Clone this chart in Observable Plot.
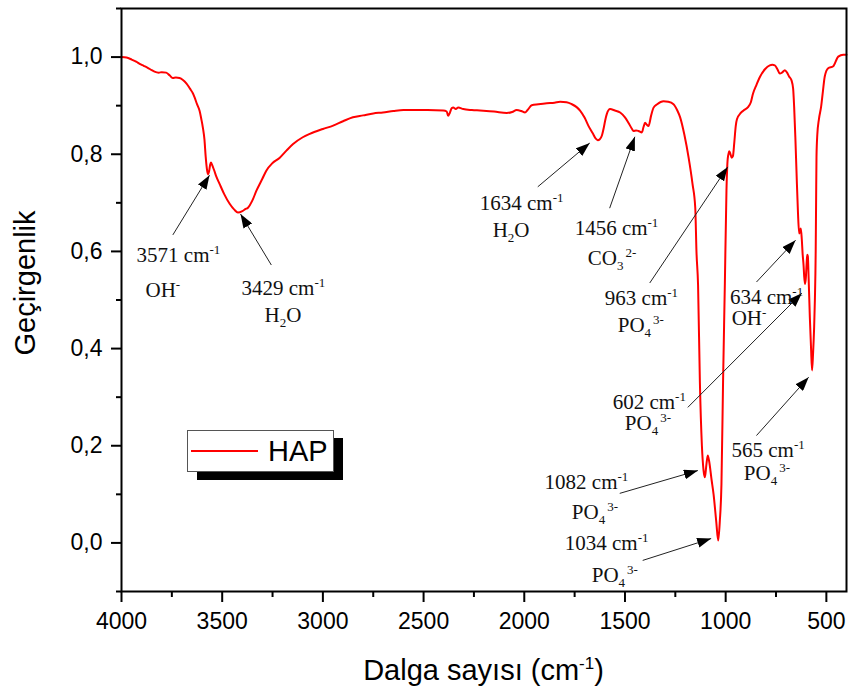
<!DOCTYPE html>
<html>
<head>
<meta charset="utf-8">
<script src="https://cdn.jsdelivr.net/npm/d3@7"></script>
<script src="https://cdn.jsdelivr.net/npm/@observablehq/plot@0.6"></script>
<style>
  html, body { margin: 0; padding: 0; background: #fff; }
  #chart { position: relative; width: 848px; height: 691px; }
</style>
</head>
<body>
<div id="chart"></div>
<script>
// ---- Spectrum ----
const wavenumber = [
  4000,3975,3950,3925,3910,3890,3870,3850,3836,3815,3800,3778,3760,3746,3730,3712,3695,3678,3660,3645,
  3637,3625,3612,3604,3596,3588,3582,3576,3571,3565,3560,3556,3550,3540,3530,3513,3490,3463,3440,3422,
  3400,3385,3372,3350,3330,3300,3281,3250,3214,3180,3148,3100,3065,3000,2949,2900,2851,2800,2750,2702,
  2650,2600,2552,2480,2402,2385,2378,2370,2360,2353,2340,2328,2303,2260,2220,2150,2087,2060,2038,2015,
  1996,1980,1963,1930,1888,1850,1822,1790,1764,1740,1723,1700,1682,1660,1645,1635,1625,1615,1605,1598,
  1590,1574,1550,1524,1500,1483,1465,1458,1445,1433,1416,1408,1400,1392,1383,1370,1358,1340,1309,1285,
  1259,1240,1226,1205,1184,1165,1151,1145,1137,1128,1118,1110,1103,1096,1089,1082,1070,1060,1047,1037,
  1029,1021,1013,1004,996,990,985,982,976,970,964,957,950,944,925,911,889,875,864,847,
  830,805,781,768,756,743,731,720,706,695,685,673,665,660,654,648,641,635,630,627,
  622,618,613,610,606,602,598,595,592,588,582,576,571,566,561,557,553,551,549,545,
  537,526,517,508,491,466,441,416,400
];
const transmittance = [
  1.000,0.999,0.995,0.990,0.986,0.982,0.978,0.973,0.970,0.968,0.969,0.968,0.962,0.957,0.958,0.957,0.953,0.946,0.935,0.925,
  0.917,0.903,0.889,0.873,0.855,0.830,0.795,0.770,0.759,0.765,0.778,0.783,0.778,0.767,0.755,0.739,0.718,0.698,0.686,0.680,
  0.683,0.687,0.690,0.705,0.725,0.750,0.766,0.782,0.793,0.808,0.821,0.835,0.842,0.852,0.859,0.868,0.876,0.880,0.884,0.886,
  0.889,0.891,0.891,0.891,0.890,0.888,0.879,0.885,0.895,0.896,0.893,0.896,0.893,0.891,0.890,0.888,0.885,0.887,0.891,0.889,
  0.886,0.893,0.901,0.903,0.905,0.906,0.908,0.907,0.903,0.897,0.890,0.875,0.859,0.843,0.832,0.829,0.831,0.838,0.855,0.870,
  0.883,0.893,0.890,0.886,0.876,0.865,0.852,0.848,0.849,0.848,0.845,0.856,0.865,0.861,0.858,0.880,0.896,0.903,0.909,0.908,
  0.903,0.890,0.876,0.840,0.793,0.740,0.690,0.600,0.530,0.330,0.200,0.150,0.135,0.160,0.180,0.168,0.130,0.100,0.045,0.005,
  0.045,0.120,0.330,0.534,0.726,0.790,0.802,0.806,0.800,0.793,0.796,0.825,0.858,0.872,0.885,0.890,0.897,0.907,0.925,0.943,
  0.959,0.975,0.983,0.984,0.983,0.975,0.966,0.968,0.973,0.968,0.960,0.952,0.935,0.898,0.835,0.761,0.680,0.637,0.642,0.647,
  0.625,0.596,0.570,0.548,0.533,0.545,0.575,0.593,0.590,0.545,0.464,0.400,0.355,0.390,0.440,0.500,0.600,0.700,0.795,0.840,
  0.872,0.898,0.930,0.960,0.977,0.981,1.001,1.005,1.005
];
const seriesName = "HAP";

// ---- Axes ----
const xTicks = [4000,3500,3000,2500,2000,1500,1000,500];
const xMinorTicks = [3750,3250,2750,2250,1750,1250,750];
const yTicks = [0,0.2,0.4,0.6,0.8,1.0];
const yMinorTicks = [-0.1,0.1,0.3,0.5,0.7,0.9,1.1];
const xTitle = "Dalga sayısı (cm^{-1})";
const yTitle = "Geçirgenlik";

// ---- Annotations (data units: wavenumber, transmittance) ----
const peakNumbers = ["3571","3429","1634","1456","963","634","602","565","1082","1034"];
const peakGroups  = ["OH^{-}","H_{2}O","H_{2}O","CO_{3}^{2-}","PO_{4}^{3-}","OH^{-}","PO_{4}^{3-}","PO_{4}^{3-}","PO_{4}^{3-}","PO_{4}^{3-}"];
const label1X = [3925,3404,2221,1750,1600,979,1561,971,1899,1799];
const label1Y = [0.592,0.524,0.700,0.648,0.504,0.506,0.289,0.190,0.124,-0.001];
const label2X = [3881,3290,2157,1685,1536,970,1501,910,1764,1665];
const label2Y = [0.520,0.469,0.644,0.586,0.448,0.462,0.246,0.143,0.063,-0.067];
const arrowFromX = [3745,3256,1933,1576,1377,847,1188,847,1526,1412];
const arrowFromY = [0.634,0.572,0.733,0.689,0.535,0.537,0.279,0.221,0.102,-0.036];
const arrowToX   = [3563,3409,1675,1451,990,653,622,588,1138,1072];
const arrowToY   = [0.757,0.677,0.823,0.836,0.774,0.623,0.514,0.341,0.149,0.009];

const spectrum = wavenumber.map((w, i) => ({w, t: transmittance[i]}));
const annots = peakNumbers.map((n, i) => ({
  line1: `${n} cm^{-1}`, line2: peakGroups[i],
  x1: label1X[i], y1: label1Y[i], x2: label2X[i], y2: label2Y[i],
  ax1: arrowFromX[i], ay1: arrowFromY[i], ax2: arrowToX[i], ay2: arrowToY[i]
}));

const fmtY = d => d.toFixed(1).replace(".", ",");
const sans = "'Liberation Sans', Arial, sans-serif";
const serif = "'Liberation Serif', 'Times New Roman', serif";

const chart = Plot.plot({
  width: 848,
  height: 691,
  marginLeft: 121,
  marginRight: 2,
  marginTop: 8,
  marginBottom: 100,
  style: {fontFamily: sans, fontSize: "23px", color: "#000", background: "#fff", overflow: "visible"},
  x: {domain: [4000, 400]},
  y: {domain: [-0.1, 1.1]},
  marks: [
    Plot.axisX(xTicks, {tickSize: 11, tickPadding: 10, tickFormat: d => String(d), strokeWidth: 2, label: null, fontSize: 23}),
    Plot.axisX(xMinorTicks, {tickSize: 6, tickFormat: () => "", strokeWidth: 2, label: null}),
    Plot.axisY(yTicks, {tickSize: 10, tickPadding: 9, tickFormat: fmtY, strokeWidth: 2, label: null, fontSize: 23}),
    Plot.axisY(yMinorTicks, {tickSize: 5, tickFormat: () => "", strokeWidth: 2, label: null}),
    Plot.line(spectrum, {x: "w", y: "t", stroke: "#ff0000", strokeWidth: 2, curve: "monotone-x"}),
    Plot.link(annots, {x1: "ax1", y1: "ay1", x2: "ax2", y2: "ay2", stroke: "#222", strokeWidth: 1, ariaDescription: "annot-arrow"}),
    Plot.text(annots, {x: "x1", y: "y1", text: "line1", textAnchor: "start", fontFamily: serif, fontSize: 21, fill: "#111", ariaDescription: "annot-line1"}),
    Plot.text(annots, {x: "x2", y: "y2", text: "line2", textAnchor: "start", fontFamily: serif, fontSize: 21, fill: "#111", ariaDescription: "annot-line2"}),
    Plot.frame({stroke: "#000", strokeWidth: 2})
  ]
});

// rich text: _{..} subscript, ^{..} superscript
function setRich(sel, markup, small, up, down) {
  sel.text(null);
  let shift = 0, prev = "n";
  const parts = markup.match(/(_\{[^}]*\}|\^\{[^}]*\}|[^_^]+)/g);
  for (const m of parts) {
    let kind = "n", s = m;
    if (m.startsWith("_{")) { kind = "sub"; s = m.slice(2, -1); }
    else if (m.startsWith("^{")) { kind = "sup"; s = m.slice(2, -1); }
    const target = kind === "sub" ? down : kind === "sup" ? -up : 0;
    const t = sel.append("tspan").text(s).attr("dy", target - shift);
    if (kind !== "n") t.attr("font-size", small);
    if (kind === "sup" && prev === "sub") t.attr("dx", 2);
    shift = target; prev = kind;
  }
}

const svg = d3.select(chart);
// locate the text groups by their texts (robust to attribute naming)
const textNodes = svg.selectAll("text").nodes();
const line1Set = new Set(annots.map(d => d.line1));
const line2Set = new Set(annots.map(d => d.line2));
let i1 = 0, i2 = 0;
for (const node of textNodes) {
  const s = node.textContent;
  if (i1 < annots.length && s === annots[i1].line1) { setRich(d3.select(node), s, 13, 8, 5); i1++; }
  else if (i2 < annots.length && s === annots[i2].line2 && (line2Set.has(s))) { setRich(d3.select(node), s, 13, 8, 5); i2++; }
}

// filled arrowheads on the annotation links
const defs = svg.insert("defs", ":first-child");
defs.append("marker").attr("id", "ahead").attr("viewBox", "0 0 14 10").attr("refX", 14).attr("refY", 5)
  .attr("markerWidth", 14).attr("markerHeight", 10).attr("markerUnits", "userSpaceOnUse").attr("orient", "auto")
  .append("path").attr("d", "M0,0L14,5L0,10Z").attr("fill", "#000");
svg.selectAll("g").filter(function() {
  const a = this.getAttribute("aria-label") || "";
  return a === "link" || this.getAttribute("aria-description") === "annot-arrow";
}).selectAll("path").attr("marker-end", "url(#ahead)");

// axis titles
const xt = svg.append("text").attr("x", (121 + 846) / 2).attr("y", 680).attr("text-anchor", "middle")
  .attr("font-family", sans).attr("font-size", 29).attr("fill", "#000");
setRich(xt, xTitle, 17, 11, 6);
svg.append("text").attr("transform", "translate(35,283) rotate(-90)").attr("text-anchor", "middle")
  .attr("font-family", sans).attr("font-size", 29).attr("fill", "#000").text(yTitle);

// legend
const lg = svg.append("g");
lg.append("rect").attr("x", 197).attr("y", 438).attr("width", 146).attr("height", 42).attr("fill", "#000");
lg.append("rect").attr("x", 187.5).attr("y", 430.5).attr("width", 146).attr("height", 41).attr("fill", "#fff").attr("stroke", "#555").attr("stroke-width", 1);
lg.append("line").attr("x1", 191).attr("x2", 258).attr("y1", 451).attr("y2", 451).attr("stroke", "#ff0000").attr("stroke-width", 2);
lg.append("text").attr("x", 268).attr("y", 451).attr("dy", "0.36em").attr("text-anchor", "start")
  .attr("font-family", sans).attr("font-size", 29).attr("fill", "#000").text(seriesName);

document.getElementById("chart").appendChild(chart);
</script>
</body>
</html>
